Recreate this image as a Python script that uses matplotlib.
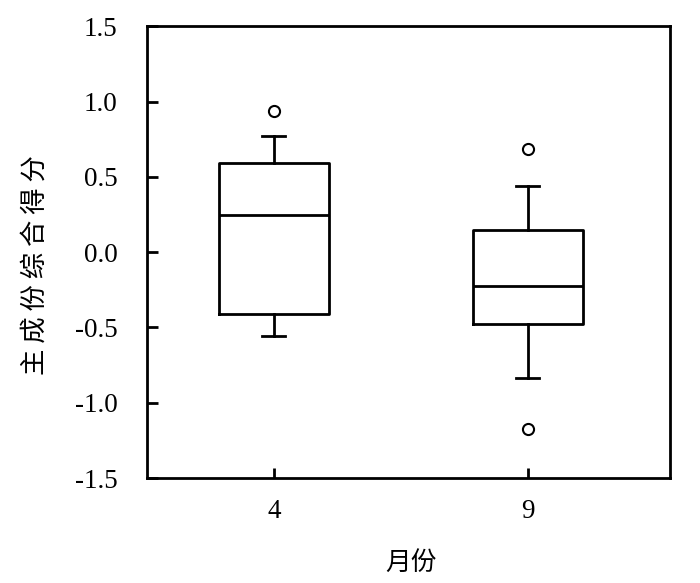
import matplotlib
matplotlib.use("Agg")
import matplotlib.pyplot as plt

plt.rcParams["font.family"] = ["Liberation Serif", "Noto Sans CJK SC", "DejaVu Sans"]

# Box statistics
months = ["4", "9"]
whisker_high = [0.77, 0.44]
q3 = [0.59, 0.148]
medians = [0.245, -0.228]
q1 = [-0.41, -0.476]
whisker_low = [-0.558, -0.837]
outliers = [[0.94], [0.688, -1.173]]
yticks = [-1.5, -1.0, -0.5, 0.0, 0.5, 1.0, 1.5]

stats = []
for i, m in enumerate(months):
    stats.append({
        "label": m,
        "whishi": whisker_high[i],
        "q3": q3[i],
        "med": medians[i],
        "q1": q1[i],
        "whislo": whisker_low[i],
        "fliers": outliers[i],
    })

fig, ax = plt.subplots(figsize=(7, 5.83), dpi=100)
fig.subplots_adjust(left=0.21, right=0.957, top=0.955, bottom=0.18)

lw = 2.0
ax.bxp(stats, positions=[1, 2], widths=0.434, capwidths=0.09,
       boxprops=dict(color="black", linewidth=lw),
       medianprops=dict(color="black", linewidth=lw),
       whiskerprops=dict(color="black", linewidth=lw),
       capprops=dict(color="black", linewidth=lw),
       flierprops=dict(marker="o", markersize=8, markerfacecolor="white",
                       markeredgecolor="black", markeredgewidth=1.5))

ax.set_xlim(0.5, 2.56)
ax.set_ylim(-1.5, 1.5)
ax.set_yticks(yticks)
ax.set_yticklabels([f"{v:.1f}" for v in yticks])
ax.set_xticks([1, 2])
ax.set_xticklabels(months)

for s in ax.spines.values():
    s.set_linewidth(2)
ax.tick_params(direction="in", length=8, width=2, labelsize=19.5)
ax.tick_params(axis="y", pad=21)
ax.tick_params(axis="x", length=7, pad=15)

ax.set_xlabel("月份", fontsize=18.5, family=["Noto Sans CJK SC"])
ax.xaxis.set_label_coords(0.505, -0.16)
ax.set_ylabel("主 成 份 综 合 得 分", fontsize=19, family=["Noto Sans CJK SC"])
ax.yaxis.set_label_coords(-0.188, 0.472)

plt.savefig("out.png", dpi=100)
plt.close()
